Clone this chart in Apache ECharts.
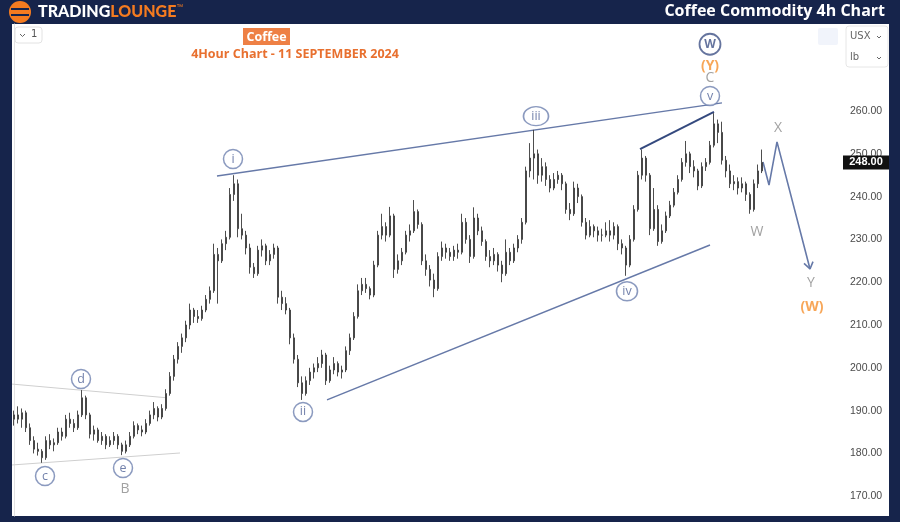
<!DOCTYPE html>
<html><head><meta charset="utf-8">
<script src="https://cdn.jsdelivr.net/npm/echarts/dist/echarts.min.js"></script>
<style>
html,body{margin:0;padding:0;background:#16244b;width:900px;height:522px;overflow:hidden;}
#bg{position:absolute;left:12px;top:24px;width:877px;height:492px;background:#fff;}
#c{position:absolute;left:0;top:0;width:900px;height:522px;}
</style>
</head><body><div id="bg"></div><div id="c"></div>
<script>
// OHLC bars: [open, high, low, close]
const bars = [
[188,190,186.5,189],[189,191,187,188],[188,190.5,186,189.5],[189.5,190,185,186],[186,187,182,183],
[183,184,180,181],[181,182.5,179.5,180.5],[180.5,181,177.8,179],[179,184,178.5,183],[183,184.5,181,182],
[182,183.5,180.5,182.5],[182.5,186,182,185],[185,186,183,184],[184,189,183.5,188],[188,189.5,186,187],
[187,188,185,186],[186,190,185.5,189],[189,194.8,188.5,193],[193,193.5,188,189],[189,189.5,183.5,184.5],
[184.5,186.5,183,185.5],[185.5,186,182.5,183],[183,185,182,184],[184,184.5,181,182],[182,184,181.5,183],
[183,185,182,184],[184,184.5,181,182],[182,182.5,179.6,180.5],[180.5,183,180,182],[182,185,181.5,184],
[184,187.5,183.5,186.5],[186.5,187,184.5,185.5],[185.5,186.5,184,185],[185,188,184.5,187],[187,190,186.5,189],
[189,192,188,190.5],[190.5,191,187.5,188.5],[188.5,191.5,188,190.5],[190.5,195,190,194],[194,199,193.5,198],
[198,203,197,202],[202,206,201,205],[205,208,203.5,207],[207,211,206,210],[210,215,209,213.5],
[213.5,214,210.5,212],[212,213.5,210.5,211.5],[211.5,214.5,211,213.5],[213.5,217,213,216],[216,219,215,218],
[218,229,217.5,226.5],[226.5,228,215,225],[225,230,224.5,229],[229,232,227.5,230.5],[230.5,242,230,240.5],
[240.5,245,239,243],[243,244,230.5,232.5],[232.5,236,230,231],[231,232,226.5,228],[228,229,222,223.5],
[223.5,224.5,221,222],[222,228.5,221.5,227.5],[227.5,230,226,228.5],[228.5,229,224,225],[225,227.5,224,226.5],
[226.5,229,225.5,228],[228,228.5,215,216.5],[216.5,218,213.5,215],[215,216.5,212.5,213.5],[213.5,214,205.5,207],
[207,208,201,202],[202,203,195.5,196.5],[196.5,198,192.5,194],[194,198,193.5,197],[197,200,196,199],
[199,201,197.5,200],[200,202.5,199,201],[201,204.2,200,203],[203,203.5,196,197],[197,200.5,196.5,199.5],
[199.5,202.5,198.5,201],[201,201.5,198,199],[199,200.5,197.5,199.5],[199.5,205,199,204],[204,208,203,207],
[207,213,206.5,212],[212,219.5,211.5,218],[218,221,217,219.5],[219.5,221,217.5,218.5],[218.5,219,216,217],
[217,225,216.5,224],[224,232,223.5,231],[231,236,230,233],[233,234,229.5,231],[231,237.6,230.5,235.5],
[235.5,236,221,223],[223,226.5,222,225],[225,228,224,227],[227,232,226.5,231],[231,233.5,229.5,232],
[232,239.2,231.5,236.5],[236.5,237,232.5,233.5],[233.5,234,224,225],[225,226.5,221.5,223],[223,224,219,220.5],
[220.5,222,216.5,218.5],[218.5,227,218,226],[226,229.5,225,228],[228,229,225.5,227],[227,228,225,226],
[226,228.5,225,227.5],[227.5,229,225.5,227],[227,236,226.5,234],[234,235,229,230],[230,231,224.5,226],
[226,237.5,225.5,235],[235,236,231,232],[232,233,228.5,229.5],[229.5,230,225,226],[226,227.5,223.5,225],
[225,228,224,226.5],[226.5,227,222.5,224],[224,225,220,222],[222,230,221.5,227],[227,228,224,225],
[225,229,224.5,228],[228,231,227,230],[230,235,229,234],[234,247,233.5,246],[246,252.5,244.5,249],
[249,255.6,244,250],[250,251,243,245],[245,249,243.5,247],[247,248,242.5,244],[244,245,241,242],
[242,245.5,241.5,244],[244,246,243,245],[245,245.5,241.5,243],[243,243.5,236,237],[237,238.5,234.5,236],
[236,243.5,235.5,242],[242,243,238.5,240],[240,240.5,233,234],[234,235,230,231],[231,234.5,230.5,233],
[233,233.5,230.5,232],[232,233,229.5,231],[231,232.5,229.5,231],[231,234,230.5,232],[232,234.5,229.5,231],
[231,234,230,233],[233,233.5,227.5,229],[229,230,226.5,228],[228,228.5,221.5,224],[224,231,223.5,230],
[230,238,229.5,237],[237,246,236.5,245],[245,251,244,249],[249,249.5,243.5,245],[245,245.5,231,232.5],
[232.5,242,232,237],[237,238,228.5,229.5],[229.5,233.5,229,232],[232,236.5,231.5,235.5],[235.5,239,235,238],
[238,242,237.5,241],[241,245,240.5,244],[244,249,243.5,248],[248,253,247,250],[250,250.5,245.5,247],
[247,248.5,244.5,246],[246,246.5,241.5,242.5],[242.5,248,242,247],[247,249,246,248],[248,253,247.5,252],
[252,259.5,251.5,257],[257,258,252.5,255],[255,257.5,247.5,248.5],[248.5,249.5,244.5,246],[246,247.5,242,243],
[243,245,241.5,243.5],[243.5,244.5,240.5,242],[242,244.5,241,243],[243,243.5,239,240.5],[240.5,241,236,237],
[237,244,236.5,243],[243,247.5,242,246],[246,251,245.5,248]
];
const totalSlots = 208;              // bars + empty projection space
const yTicks = [170,180,190,200,210,220,230,240,250,260];
const yRange = [165.38, 280.33];

// Elliott wave annotations (x in bar-slot units, y in price)
const waveCircles = [
  ['c',7.75,174.7],['d',16.75,197.4],['e',27.25,176.6],['i',54.75,248.8],
  ['ii',72.25,189.7],['iii',130.5,258.8],['iv',153.25,217.9],['v',174,263.5]
];
const majorCircle = [['W',174,275.6]];
const greyTexts = [['B',27.75,171.7],['C',174,267.6],['X',191,256.0],['W',185.75,231.7],['Y',199.25,219.8]];
const orangeTexts = [['(Y)',174,270.5],['(W)',199.5,214.2]];

// Trend / channel lines
const wedgeUpper = [[50.75,244.8],[177,261.9]];
const wedgeLower = [[78.25,192.5],[174,228.7]];
const topLine = [[156.5,251.1],[175,259.8]];
const triUpper = [[-0.5,196.2],[38.25,193.0]];
const triLower = [[-0.5,177.3],[41.5,180.1]];
const projection = [[187.25,248.1],[188.75,242.7],[190.75,252.8],[199,223.1]];
const arrowHead = [[197.5,224.4],[199,223.1],[199.75,224.8]];

const lastClose = bars[bars.length-1][3];

const chart = echarts.init(document.getElementById('c'), null, {renderer:'canvas'});
const cats = Array.from({length: totalSlots}, (_, k) => String(k));
const candle = bars.map(b => [b[0], b[3], b[2], b[1]]);

function lineSeries(data, color, width) {
  return {type:'line', xAxisIndex:1, yAxisIndex:0, data:data, symbol:'none', silent:true,
    lineStyle:{color:color, width:width}, z:3, animation:false};
}
function textSeries(arr, color, size, weight) {
  return {type:'scatter', xAxisIndex:1, yAxisIndex:0, symbolSize:1, silent:true, z:6,
    itemStyle:{color:'rgba(0,0,0,0)'},
    data: arr.map(a => ({name:a[0], value:[a[1],a[2]]})),
    label:{show:true, position:'inside', formatter:'{b}', color:color, fontSize:size,
      fontWeight:weight, fontFamily:'Open Sans, Noto Sans, sans-serif'}};
}

const graphics = [
  // logo
  {type:'circle', shape:{cx:20, cy:12, r:11}, style:{fill:'#f47b20'}},
  {type:'rect', shape:{x:11, y:8, width:18, height:2}, style:{fill:'#16244b'}},
  {type:'rect', shape:{x:11, y:14, width:18, height:2}, style:{fill:'#16244b'}},
  {type:'text', left:38, top:4, style:{text:'{a|TRADING}{b|LOUNGE}{c|™}',
    rich:{a:{fill:'#fff', fontSize:16, fontWeight:900, fontFamily:'Lato, sans-serif'},
          b:{fill:'#f47b20', fontSize:16, fontWeight:900, fontFamily:'Lato, sans-serif'},
          c:{fill:'#f47b20', fontSize:7, verticalAlign:'top'}}}},
  {type:'text', right:15, top:3, style:{text:'Coffee Commodity 4h Chart', fill:'#fff',
    fontSize:16, fontWeight:'bold', fontFamily:'Open Sans, sans-serif'}},
  // top-left widget
  {type:'rect', shape:{x:15, y:27, width:27, height:16, r:3}, style:{fill:'#fff', stroke:'#e2e2e2', lineWidth:1}},
  {type:'polyline', shape:{points:[[20,34],[22.5,36.5],[25,34]]}, style:{stroke:'#666', lineWidth:1, fill:null}},
  {type:'text', left:31, top:29, style:{text:'1', fill:'#555', fontSize:10, fontFamily:'DejaVu Sans, sans-serif'}},
  // title
  {type:'rect', shape:{x:243, y:28, width:47, height:17}, style:{fill:'#ee8045'}},
  {type:'text', x:266.5, y:37, style:{text:'Coffee', fill:'#fff', fontSize:12.5, fontWeight:'bold',
    fontFamily:'Open Sans, sans-serif', align:'center', verticalAlign:'middle'}},
  {type:'text', x:295, y:54, style:{text:'4Hour Chart - 11 SEPTEMBER 2024', fill:'#e8702f', fontSize:12.5,
    fontWeight:'bold', fontFamily:'Open Sans, sans-serif', align:'center', verticalAlign:'middle'}},
  // top-right widgets
  {type:'rect', shape:{x:818, y:28, width:20, height:17, r:2}, style:{fill:'#f1f4fb'}},
  {type:'rect', shape:{x:846, y:26, width:42, height:41, r:3}, style:{fill:'#fff', stroke:'#e6e6e6', lineWidth:1}},
  {type:'text', left:850, top:31, style:{text:'USX', fill:'#666', fontSize:10, fontFamily:'DejaVu Sans, sans-serif'}},
  {type:'text', left:850, top:52, style:{text:'lb', fill:'#666', fontSize:10, fontFamily:'DejaVu Sans, sans-serif'}},
  {type:'polyline', shape:{points:[[877,36],[879,38],[881,36]]}, style:{stroke:'#666', lineWidth:1, fill:null}},
  {type:'polyline', shape:{points:[[877,57],[879,59],[881,57]]}, style:{stroke:'#666', lineWidth:1, fill:null}}
];

const option = {
  backgroundColor:'transparent',
  animation:false,
  grid:{left:12, right:56, top:24, bottom:6, containLabel:false},
  xAxis:[
    {type:'category', data:cats, show:false, boundaryGap:true},
    {type:'value', min:-0.5, max:totalSlots-0.5, show:false}
  ],
  yAxis:[{type:'value', position:'right', min:yRange[0], max:yRange[1], scale:true,
    axisLine:{show:true, lineStyle:{color:'#e3e3e3', width:1}},
    axisTick:{show:false}, splitLine:{show:false},
    axisLabel:{customValues:yTicks, color:'#4a4a4a', fontSize:10.5, margin:6,
      fontFamily:'Liberation Sans, Arial, sans-serif', formatter:v => v.toFixed(2)}}],
  series:[
    lineSeries(triUpper,'#cfcfcf',1),
    lineSeries(triLower,'#cfcfcf',1),
    lineSeries(wedgeUpper,'#6679a8',1.5),
    lineSeries(wedgeLower,'#6679a8',1.5),
    lineSeries(topLine,'#34497e',2),
    lineSeries(projection,'#6679a8',1.6),
    lineSeries(arrowHead,'#6679a8',1.6),
    {type:'candlestick', xAxisIndex:0, yAxisIndex:0, data:candle, barWidth:2, z:4, silent:true,
      itemStyle:{color:'#8f8f8f', color0:'#8f8f8f', borderColor:'#3a3a3a', borderColor0:'#3a3a3a', borderWidth:0.9}},
    {type:'scatter', xAxisIndex:1, yAxisIndex:0, silent:true, z:6,
      data: waveCircles.map(a => ({name:a[0], value:[a[1],a[2]],
        symbolSize: a[0]==='iii' ? [25,19] : (a[0]==='iv' ? [21,19] : [19,19])})),
      symbol:'circle',
      itemStyle:{color:'#fff', borderColor:'#6e81af', borderWidth:1.5},
      label:{show:true, position:'inside', formatter:'{b}', color:'#4f6296', fontSize:12.5,
        fontFamily:'Open Sans, sans-serif'}},
    {type:'scatter', xAxisIndex:1, yAxisIndex:0, silent:true, z:6,
      data: majorCircle.map(a => ({name:a[0], value:[a[1],a[2]]})),
      symbol:'circle', symbolSize:21,
      itemStyle:{color:'#fff', borderColor:'#3e5186', borderWidth:1.8},
      label:{show:true, position:'inside', formatter:'{b}', color:'#3e5186', fontSize:12,
        fontWeight:'bold', fontFamily:'Open Sans, sans-serif'}},
    textSeries(greyTexts,'#8a8a8a',14,'normal'),
    textSeries(orangeTexts,'#f5902e',14,'bold')
  ],
  graphic: graphics
};
chart.setOption(option);

// current price tag on the right axis
const py = chart.convertToPixel({yAxisIndex:0}, lastClose);
chart.setOption({graphic: graphics.concat([
  {type:'rect', shape:{x:843, y:py-7, width:46, height:14}, style:{fill:'#111'}, z:10},
  {type:'text', x:866, y:py, z:11, style:{text:lastClose.toFixed(2), fill:'#fff', fontSize:11, fontWeight:'bold',
    fontFamily:'Liberation Sans, Arial, sans-serif', align:'center', verticalAlign:'middle'}}
])});
</script></body></html>
